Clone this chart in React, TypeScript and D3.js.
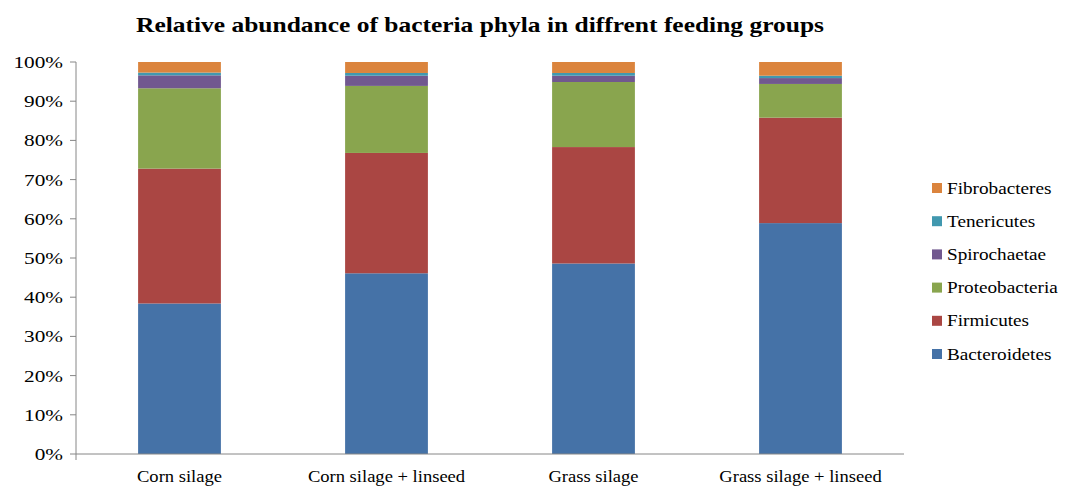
import * as d3 from 'd3'

const groups = ['Corn silage', 'Corn silage + linseed', 'Grass silage', 'Grass silage + linseed']
const phyla = ['Bacteroidetes', 'Firmicutes', 'Proteobacteria', 'Spirochaetae', 'Tenericutes', 'Fibrobacteres']
const bacteroidetes = [38.4, 46.1, 48.6, 58.9]
const firmicutes = [34.4, 30.7, 29.7, 26.9]
const proteobacteria = [20.5, 17.1, 16.6, 8.6]
const spirochaetae = [3.3, 2.6, 1.6, 1.5]
const tenericutes = [0.7, 0.7, 0.7, 0.6]
const fibrobacteres = [2.7, 2.8, 2.8, 3.5]
const colors = ['#4572A7', '#AA4643', '#89A54E', '#71588F', '#4198AF', '#DB843D']
const yTicks = [0, 10, 20, 30, 40, 50, 60, 70, 80, 90, 100]

const W = 1065
const H = 487
const font = "'Liberation Serif', 'Times New Roman', 'DejaVu Serif', serif"

// text slightly stretched horizontally like the original export
const Label = ({ x, y, anchor = 'start', size = 16, sx = 1.16, children }: any) => (
  <text transform={`translate(${x},${y}) scale(${sx},1)`} dy="0.35em" textAnchor={anchor}
    style={{ fontFamily: font, fontSize: size }} fill="#000">{children}</text>
)

export default function App() {
  const rows = groups.map((g, i) => ({
    group: g,
    Bacteroidetes: bacteroidetes[i],
    Firmicutes: firmicutes[i],
    Proteobacteria: proteobacteria[i],
    Spirochaetae: spirochaetae[i],
    Tenericutes: tenericutes[i],
    Fibrobacteres: fibrobacteres[i],
  }))
  const series = d3.stack<any>().keys(phyla)(rows)

  const x = d3.scaleBand().domain(groups).range([76, 904]).paddingInner(0.6).paddingOuter(0.3)
  const y = d3.scaleLinear().domain([0, 100]).range([454, 62])
  const axisColor = '#868686'

  return (
    <svg width={W} height={H} style={{ position: 'absolute', left: 0, top: 0, background: '#fff' }}>
      <text x={480} y={32} textAnchor="middle" style={{ fontFamily: font, fontWeight: 'bold', fontSize: 21 }}
        textLength={688} lengthAdjust="spacingAndGlyphs">
        Relative abundance of bacteria phyla in diffrent feeding groups
      </text>

      {/* stacked bars */}
      {series.map((s, si) => (
        <g key={phyla[si]} fill={colors[si]}>
          {s.map((d, i) => (
            <rect key={groups[i]} x={x(groups[i])} width={x.bandwidth()}
              y={y(d[1])} height={y(d[0]) - y(d[1])} />
          ))}
        </g>
      ))}

      {/* y axis */}
      <line x1={76} x2={76} y1={y(100)} y2={y(0)} stroke={axisColor} />
      {yTicks.map(t => (
        <g key={t}>
          <line x1={70} x2={76} y1={y(t)} y2={y(t)} stroke={axisColor} />
          <Label x={63} y={y(t)} anchor="end" size={17} sx={1.25}>{t}%</Label>
        </g>
      ))}

      {/* x axis */}
      <line x1={76} x2={904} y1={y(0)} y2={y(0)} stroke={axisColor} />
      <line x1={76} x2={76} y1={y(0)} y2={y(0) + 6} stroke={axisColor} />
      {groups.map(g => (
        <Label key={g} x={x(g)! + x.bandwidth() / 2} y={476} anchor="middle">{g}</Label>
      ))}

      {/* legend */}
      {phyla.slice().reverse().map((p, i) => {
        const ci = phyla.indexOf(p)
        const ly = 188 + i * 33.2
        return (
          <g key={p}>
            <rect x={932} y={ly - 5} width={10} height={10} fill={colors[ci]} />
            <Label x={947} y={ly} sx={1.2}>{p}</Label>
          </g>
        )
      })}
    </svg>
  )
}
